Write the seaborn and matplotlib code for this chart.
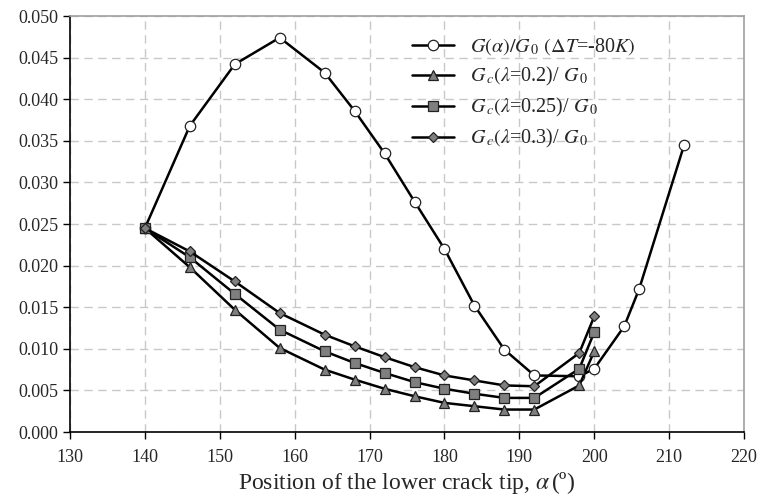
import pandas as pd
import matplotlib.pyplot as plt
import numpy as np
import seaborn as sns

sns.set_style("white")
plt.rcParams['font.family'] = ['Liberation Serif', 'DejaVu Serif']
plt.rcParams['mathtext.fontset'] = 'stix'

# data
alpha_G = [140, 146, 152, 158, 164, 168, 172, 176, 180, 184, 188, 192, 198, 200, 204, 206, 212]
G_ratio = [0.0245, 0.0368, 0.0442, 0.0474, 0.0432, 0.0386, 0.0335, 0.0277, 0.0220, 0.0152,
           0.0099, 0.0068, 0.0067, 0.0076, 0.0127, 0.0172, 0.0345]

alpha_c = [140, 146, 152, 158, 164, 168, 172, 176, 180, 184, 188, 192, 198, 200]
Gc_02 = [0.0245, 0.0198, 0.0147, 0.0101, 0.0075, 0.0063, 0.0052, 0.0043, 0.0035, 0.0031,
         0.0027, 0.0027, 0.0056, 0.0097]
Gc_025 = [0.0245, 0.0210, 0.0166, 0.0123, 0.0097, 0.0083, 0.0071, 0.0060, 0.0052, 0.0046,
          0.0041, 0.0041, 0.0076, 0.0120]
Gc_03 = [0.0245, 0.0217, 0.0181, 0.0143, 0.0117, 0.0103, 0.0090, 0.0078, 0.0068, 0.0062,
         0.0056, 0.0055, 0.0095, 0.0139]

labels = [r'$G(\alpha)/G_{\,0}$ $(\Delta T$=-80$K)$',
          r'$G_{\,c}(\lambda$=0.2)/ $G_{\,0}$',
          r'$G_{\,c}(\lambda$=0.25)/ $G_{\,0}$',
          r'$G_{\,c}(\lambda$=0.3)/ $G_{\,0}$']

fig = plt.figure(figsize=(7.6, 5.01), dpi=100)
ax = fig.add_axes([0.0921, 0.1377, 0.8869, 0.8303])

series = [(alpha_G, G_ratio, 'o', 'white', 7.5),
          (alpha_c, Gc_02, '^', '#7f7f7f', 7),
          (alpha_c, Gc_025, 's', '#7f7f7f', 7),
          (alpha_c, Gc_03, 'D', '#7f7f7f', 5.5)]
for (xs, ys, mk, fc, ms), lab in zip(series, labels):
    df = pd.DataFrame({'alpha': xs, 'G': ys})
    sns.lineplot(data=df, x='alpha', y='G', ax=ax, sort=False, estimator=None,
                 color='black', linewidth=1.8, marker=mk, markersize=ms,
                 markerfacecolor=fc, markeredgecolor='#222222', markeredgewidth=0.9,
                 label=lab)

ax.set_xlim(130, 220)
ax.set_ylim(0, 0.05)
ax.set_xticks(np.arange(130, 221, 10))
ax.set_yticks(np.arange(0, 0.0501, 0.005))
ax.set_yticklabels([f'{v:.3f}' for v in np.arange(0, 0.0501, 0.005)])
ax.grid(True, color='#c8c8c8', linestyle=(0, (6, 4)), linewidth=1.0)
ax.set_axisbelow(True)
ax.tick_params(axis='both', labelsize=13, direction='out', length=5, width=1,
               left=True, bottom=True, color='black')
ax.tick_params(axis='x', pad=7)
for s in ['left', 'bottom']:
    ax.spines[s].set_color('black')
    ax.spines[s].set_linewidth(1.2)
for s in ['top', 'right']:
    ax.spines[s].set_color('#a0a0a0')
    ax.spines[s].set_linewidth(1.2)

ax.set_xlabel(r'Position of the lower crack tip, $\alpha\,$(º)', fontsize=17, labelpad=3)
ax.set_ylabel('')

leg = ax.legend(loc='upper left', bbox_to_anchor=(0.48, 0.995), frameon=False,
                fontsize=14.5, handlelength=2.1, handletextpad=0.8, labelspacing=0.4)

plt.savefig('out.png', dpi=100)
